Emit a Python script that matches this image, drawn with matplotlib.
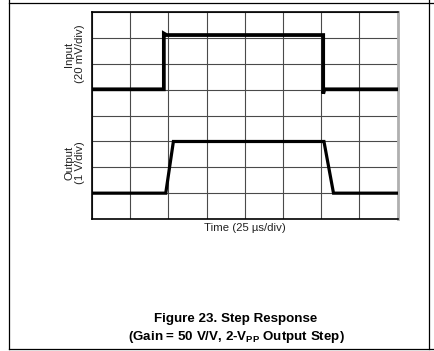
import matplotlib
matplotlib.use("Agg")
import matplotlib.pyplot as plt
from matplotlib.lines import Line2D

plt.rcParams['font.family'] = ['Liberation Sans', 'DejaVu Sans']
plt.rcParams['mathtext.fontset'] = 'custom'
plt.rcParams['mathtext.rm'] = 'Liberation Sans'
plt.rcParams['mathtext.bf'] = 'Liberation Sans:bold'

# Data in divisions (x: 25 us/div, y: screen divisions)
input_t = [0.0, 1.88, 1.88, 1.95, 6.05, 6.05, 6.08, 8.0]
input_v = [5.02, 5.02, 7.18, 7.12, 7.12, 4.85, 5.02, 5.02]
output_t = [0.0, 1.93, 2.13, 6.07, 6.32, 8.0]
output_v = [1.0, 1.0, 3.0, 3.0, 1.0, 1.0]

W, H = 435, 351
fig = plt.figure(figsize=(W / 100, H / 100), dpi=100)

L, R, T, B = 92, 397.7, 12.3, 219
ax = fig.add_axes([L / W, 1 - B / H, (R - L) / W, (B - T) / H])
ax.set_xlim(0, 8)
ax.set_ylim(0, 8)
ax.set_xticks(range(9))
ax.set_yticks(range(9))
ax.tick_params(length=0, labelleft=False, labelbottom=False)
ax.grid(True, color='#4a4a4a', linewidth=0.8)
for s in ['left', 'top', 'bottom']:
    ax.spines[s].set_color('black')
    ax.spines[s].set_linewidth(1.2)
ax.spines['right'].set_color('#b0b0b0')
ax.spines['right'].set_linewidth(2.0)

ax.plot(input_t, input_v, color='black', linewidth=2.7, solid_joinstyle='miter', zorder=3)
ax.plot(output_t, output_v, color='black', linewidth=2.3, solid_joinstyle='miter', zorder=3)

fig.text(74.5 / W, 1 - 54 / H, "Input\n(20 mV/div)", rotation=90, ha='center', va='center',
         fontsize=8.2, color='#222222', linespacing=1.1)
fig.text(74.5 / W, 1 - 163 / H, "Output\n(1 V/div)", rotation=90, ha='center', va='center',
         fontsize=8.2, color='#222222', linespacing=1.1)
fig.text(245 / W, 1 - 228 / H, "Time (25 µs/div)", ha='center', va='center',
         fontsize=8.2, color='#222222')

fig.text(236 / W, 1 - 319 / H, "Figure 23. Step Response", ha='center', va='center',
         fontsize=9.6, fontweight='bold')
fig.text(236 / W, 1 - 337 / H, r"(Gain = 50 V/V, 2-V$_\mathbf{PP}$ Output Step)",
         ha='center', va='center', fontsize=9.6, fontweight='bold')

def px_line(x0, y0, x1, y1):
    fig.add_artist(Line2D([x0 / W, x1 / W], [1 - y0 / H, 1 - y1 / H],
                          transform=fig.transFigure, color='black', linewidth=0.9))

px_line(9, 3, 435, 3)
px_line(9.5, 0, 9.5, 348.5)
px_line(429.5, 0, 429.5, 348.5)
px_line(9, 348.5, 435, 348.5)

fig.savefig("out.png", dpi=100)
